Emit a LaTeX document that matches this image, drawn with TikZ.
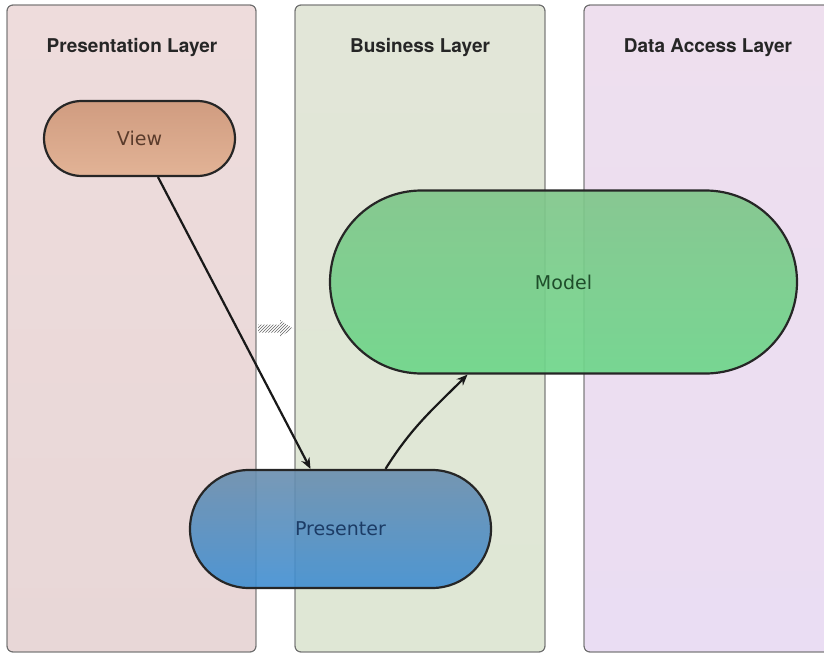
\documentclass[tikz,border=0pt]{standalone}
\usepackage{fontspec}
\setmainfont{DejaVu Sans}
\newfontfamily\titlefont{TeX Gyre Heros}
\usetikzlibrary{arrows.meta,patterns,shapes.misc}
\definecolor{laneA}{HTML}{E8D7D7}
\definecolor{laneAtop}{HTML}{EEDCDC}
\definecolor{laneB}{HTML}{DFE7D5}
\definecolor{laneBtop}{HTML}{E2E6D8}
\definecolor{laneC}{HTML}{EADDF3}
\definecolor{laneCtop}{HTML}{EEDFEE}
\definecolor{viewtop}{HTML}{D09C80}
\definecolor{viewbot}{HTML}{E2B396}
\definecolor{modeltop}{HTML}{80C68A}
\definecolor{modelbot}{HTML}{6ED68A}
\definecolor{prestop}{HTML}{6A8EAE}
\definecolor{presbot}{HTML}{3F8ED2}
\definecolor{lanedraw}{HTML}{707070}
\definecolor{viewtext}{HTML}{5A3B2B}
\definecolor{modeltext}{HTML}{1E4D2A}
\definecolor{prestext}{HTML}{1C3C66}
\begin{document}
\begin{tikzpicture}[x=1pt,y=-1pt,
  lane/.style={draw=lanedraw,line width=0.9pt,rounded corners=6pt},
  lanetitle/.style={font=\titlefont\bfseries\fontsize{19}{22}\selectfont,text=black!85},
  pill/.style={rounded rectangle,draw=black!85,line width=2.2pt,inner sep=0pt,
     font=\fontsize{19}{22}\selectfont},
  conn/.style={draw=black!90,line width=2.2pt,-{Stealth[length=11pt,width=9pt]}}
]
\useasboundingbox (0,0) rectangle (824,655);
% lanes
\shade[lane,top color=laneAtop,bottom color=laneA] (7,5) rectangle (256,652);
\shade[lane,top color=laneBtop,bottom color=laneB] (295,5) rectangle (545,652);
\shade[lane,top color=laneCtop,bottom color=laneC] (584,5) rectangle (830,652);
\draw[lane] (7,5) rectangle (256,652);
\draw[lane] (295,5) rectangle (545,652);
\draw[lane] (584,5) rectangle (830,652);
\node[lanetitle] (tA) at (132,48) {Presentation Layer};
\node[lanetitle] (tB) at (420,48) {Business Layer};
\node[lanetitle] (tC) at (708,48) {Data Access Layer};
% hatched arrow
\path[pattern=north east lines,pattern color=black!60]
  (258,324.5) -- (280,324.5) -- (280,320) -- (293,328.5) -- (280,337) -- (280,332.5) -- (258,332.5) -- cycle;
% pills
\node[pill,minimum width=191pt,minimum height=75pt,top color=viewtop,bottom color=viewbot,
  text=viewtext] (view) at (139.5,138.5) {View};
\node[pill,minimum width=467pt,minimum height=183pt,top color=modeltop,bottom color=modelbot,
  fill opacity=0.92,text opacity=1,text=modeltext] (model) at (563.5,282) {Model};
\node[pill,minimum width=301pt,minimum height=118pt,top color=prestop,bottom color=presbot,
  fill opacity=0.9,text opacity=1,text=prestext] (pres) at (340.5,529) {Presenter};
% connectors
\draw[conn] ([xshift=18.5pt]view.south) -- ([xshift=-30pt]pres.north);
\draw[conn] ([xshift=45pt]pres.north) to[out=58,in=-135] ([xshift=-96pt]model.south);
\end{tikzpicture}
\end{document}
